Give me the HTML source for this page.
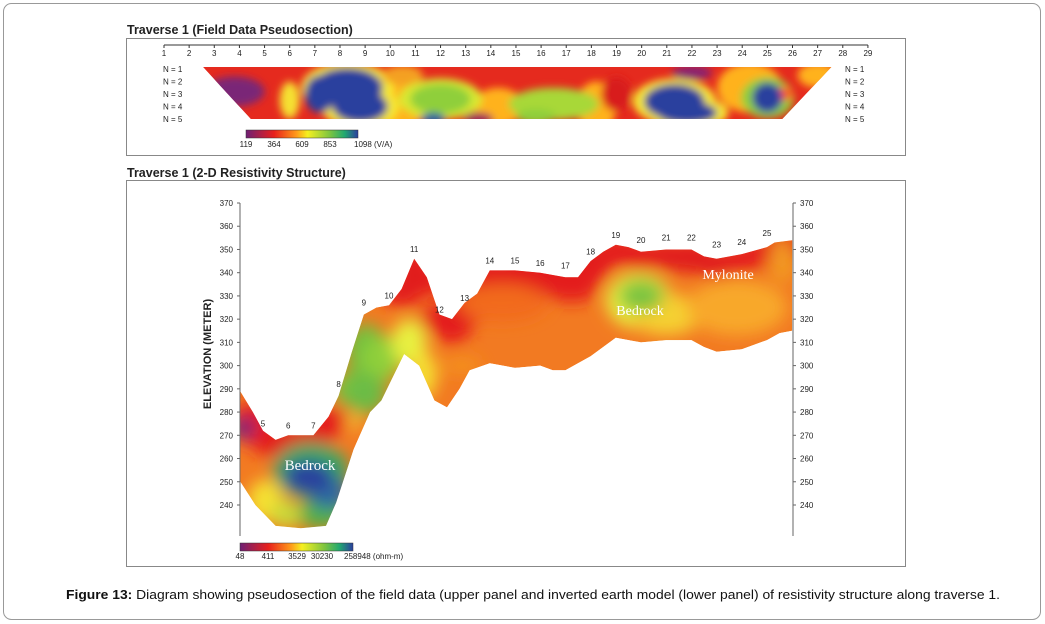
<!DOCTYPE html>
<html><head><meta charset="utf-8"><style>
body{margin:0;background:#fff;}
svg{display:block;font-family:"Liberation Sans",Arial,sans-serif;}
</style></head><body>
<svg id="fig" width="1045" height="624" viewBox="0 0 1045 624">
<defs>
<filter id="blur1" x="-50%" y="-50%" width="200%" height="200%"><feGaussianBlur stdDeviation="4"/></filter>
<filter id="blur2" x="-50%" y="-50%" width="200%" height="200%"><feGaussianBlur stdDeviation="8"/></filter>
<linearGradient id="cb1" x1="0" x2="1" y1="0" y2="0">
<stop offset="0" stop-color="#6e1f74"/><stop offset="0.25" stop-color="#e8201c"/><stop offset="0.45" stop-color="#ff9a1a"/><stop offset="0.55" stop-color="#f5f020"/><stop offset="0.75" stop-color="#7cc440"/><stop offset="0.88" stop-color="#21a870"/><stop offset="1" stop-color="#2b3f9e"/></linearGradient>
</defs>
<rect x="3.5" y="3.5" width="1037" height="616" rx="8" fill="#fff" stroke="#999"/>
<text x="127" y="34" font-size="12.5" font-weight="bold" fill="#222">Traverse 1 (Field Data Pseudosection)</text>
<rect x="126.5" y="38.5" width="779" height="117" fill="#fff" stroke="#888"/>
<g id="upper"></g>
<text x="127" y="177" font-size="12.5" font-weight="bold" fill="#222">Traverse 1 (2-D Resistivity Structure)</text>
<rect x="126.5" y="180.5" width="779" height="386" fill="#fff" stroke="#888"/>
<g id="lower"></g>
<text x="66" y="599" font-size="13" fill="#111" textLength="934" lengthAdjust="spacingAndGlyphs"><tspan font-weight="bold">Figure 13:</tspan> Diagram showing pseudosection of the field data (upper panel and inverted earth model (lower panel) of resistivity structure along traverse 1.</text>
</svg>
<script>
// ---- upper panel data ----
const upElectrodes = [1,2,3,4,5,6,7,8,9,10,11,12,13,14,15,16,17,18,19,20,21,22,23,24,25,26,27,28,29];
const upLevels = [1,2,3,4,5];
const upCbLabels = ["119","364","609","853","1098 (V/A)"];
const upBlobE = [3.8, 12.0, 11.7, 16.5, 15.8, 22.0, 13.5, 25.6, 19.0, 10.5, 6.0, 8.3, 8.8, 7.2, 21.3, 21.8, 25.0];
const upBlobN = [2.8, 3.4, 5.0, 3.8, 4.8, 1.3, 5.0, 3.0, 3.0, 1.5, 3.5, 2.5, 4.0, 3.0, 3.6, 4.5, 3.3];
const upBlobRx = [1.2, 1.2, 0.5, 1.8, 0.8, 0.8, 0.6, 0.4, 0.6, 0.8, 0.4, 1.4, 1.1, 0.6, 1.2, 1.2, 0.6];
const upBlobRy = [1.2, 1.2, 0.5, 1.3, 0.6, 0.6, 0.5, 0.6, 1.4, 0.8, 1.5, 1.6, 1.3, 1.5, 1.4, 0.9, 1.2];
const upBlobC = ["#7a2577","#8fcf3a","#2b5fa0","#a8d838","#8fcf3a","#8a2470","#9a1f5a","#ff5a20","#d81c1c","#f4a020","#f5e030","#2b3f9e","#2b3f9e","#2b3f9e","#2b3f9e","#2b3f9e","#2b3f9e"];
const upHalo = [null,"#d8e830",null,null,null,null,null,null,null,null,null,"#f5e830","#f5e830",null,"#f5e830","#f5e830","#8fcf3a"];
const NS="http://www.w3.org/2000/svg";
function mk(t,a,p){const e=document.createElementNS(NS,t);for(const k in a)e.setAttribute(k,a[k]);p.appendChild(e);return e;}
const ux = e => 164 + (e-1)*25.14;
const uy = n => 69 + (n-1)*12.5;
const up = document.getElementById('upper');
const ax = mk('line',{x1:ux(1),x2:ux(29),y1:45,y2:45,stroke:'#333','stroke-width':1},up);


upElectrodes.forEach(e=>{
  mk('line',{x1:ux(e),x2:ux(e),y1:45,y2:48,stroke:'#333'},up);
  const t=mk('text',{x:ux(e),y:56,'font-size':8,'text-anchor':'middle',fill:'#222'},up);t.textContent=e;
  
  
});
upLevels.forEach(n=>{
  const l=mk('text',{x:163,y:uy(n)+3,'font-size':8,fill:'#222'},up);l.textContent='N = '+n;
  
  
  const r=mk('text',{x:845,y:uy(n)+3,'font-size':8,fill:'#222'},up);r.textContent='N = '+n;
  
  
});
const defs=document.querySelector('defs');
const cp=mk('clipPath',{id:'upclip'},defs);
const trap=`${ux(2.55)},67 ${ux(27.55)},67 ${ux(25.6)},119 ${ux(4.45)},119`;
mk('polygon',{points:trap},cp);
const ug=mk('g',{'clip-path':'url(#upclip)'},up);
const ubg=mk('polygon',{points:trap,fill:'#e52a1e'},ug);


const sc=25.14, sn=12.5;
const ub=mk('g',{filter:'url(#blur1)'},ug);
[[10.3,3.8,1.2,2],[14.3,4,1,1.5],[18.2,4,0.8,2],[24.3,2.5,1.3,2],[27,1.5,0.8,1]].forEach(h=>mk('ellipse',{cx:ux(h[0]),cy:uy(h[1]),rx:h[2]*sc,ry:h[3]*sn,fill:'#ffb21f'},ub));
upBlobE.forEach((e,i)=>{
  if(upHalo[i]){mk('ellipse',{cx:ux(e),cy:uy(upBlobN[i]),rx:(upBlobRx[i]+0.45)*sc,ry:(upBlobRy[i]+0.45)*sn,fill:upHalo[i]},ub);}
});
upBlobE.forEach((e,i)=>{
  const el=mk('ellipse',{cx:ux(e),cy:uy(upBlobN[i]),rx:upBlobRx[i]*sc,ry:upBlobRy[i]*sn,fill:upBlobC[i]},ub);
  
  
});
const cb1=mk('rect',{x:246,y:130,width:112,height:8,fill:'url(#cb1)',stroke:'#333','stroke-width':0.5},up);


[246,274,302,330,358].forEach((x,i)=>{const t=mk('text',{x:i==4?x-4:x,y:147,'font-size':8,'text-anchor':i==4?'start':'middle',fill:'#222'},up);t.textContent=upCbLabels[i];
  
  });

// ---- lower panel data ----
const elevTicks = [370,360,350,340,330,320,310,300,290,280,270,260,250,240];
const topE = [4.1,4.6,5,5.5,6,6.5,7,7.6,8,8.5,9,9.5,10,10.5,11,11.5,12,12.5,13,13.5,14,15,16,17,17.5,18,18.5,19,19.5,20,21,22,22.5,23,24,25,25.3,26.0];
const topZ = [289,280,272,268,270,270,270,278,287,305,322,325,326,333,346,338,322,320,327,331,341,341,340,338,338,345,349,352,351,349,350,350,347,346,348,351,353,354];
const botE = [4.1,4.7,5.5,6.5,7.5,7.9,8.6,9.25,9.7,10.6,11.2,11.8,12.3,12.8,13.2,14,15,16,16.5,17,17.5,18,18.5,19,20,21,22,22.5,23,24,25,25.5,26.0];
const botZ = [250,240,231,230,231,241,264,280,285,305,300,285,282,290,298,301,299,300,298,298,301,304,308,312,310,311,311,308,306,307,311,314,315];
const lowCbLabels = ["48","411","3529","30230","258948 (ohm-m)"];
const electrodeLabels=[5,6,7,8,9,10,11,12,13,14,15,16,17,18,19,20,21,22,23,24,25];
const electrodeLabelZ=[273,272,272,290,325,328,348,322,327,343,343,342,341,347,354,352,353,353,350,351,355];
const lbE=[4.2,6.9,8.6,9.1,9.7,10.8,11.4,5.1,8.6,19.9,21.0,20.0,14.5,25.6,22.0,16.5,12.9,23.8,10.8,7.3,5.9,9.1,7.6,6.8];
const lbZ=[273,255,290,306,303,310,296,242,276,328,322,330,327,345,345,348,300,325,338,236,236,288,245,252];
const lbRx=[0.5,1.5,0.8,0.8,0.8,0.7,0.5,0.7,0.3,1.3,1.4,0.9,1.8,0.5,1.5,2,0.8,2,0.6,1.0,0.6,0.8,0.8,1.0];
const lbRy=[5,12,8,12,10,10,10,9,4,12,9,7,8,10,5,5,4,12,6,6,6,9,7,7];
const lbC=["#7a2577","#3aa860","#7cc440","#6fc040","#8fcf3a","#e8f040","#f5e030","#f5e030","#f5c030","#e8f040","#f5d030","#7cc440","#f26a1e","#f29a20","#e01c1c","#e01c1c","#f4901e","#f8a82a","#e01c1c","#4fb24a","#c8dc3a","#6cbc44","#2e6aa0","#2b3f9e"];
const ly = z => 203 + (370-z)*2.323;
const lx = e => 263 + (e-5)*25.2;
const lo=document.getElementById('lower');
const yl=mk('line',{x1:240,x2:240,y1:203,y2:536,stroke:'#666'},lo);


const yr=mk('line',{x1:793,x2:793,y1:203,y2:536,stroke:'#666'},lo);


elevTicks.forEach(z=>{
  mk('line',{x1:237,x2:240,y1:ly(z),y2:ly(z),stroke:'#666'},lo);
  mk('line',{x1:793,x2:796,y1:ly(z),y2:ly(z),stroke:'#666'},lo);
  const a=mk('text',{x:233,y:ly(z)+3,'font-size':8,'text-anchor':'end',fill:'#222'},lo);a.textContent=z;
  
  
  const b=mk('text',{x:800,y:ly(z)+3,'font-size':8,fill:'#222'},lo);b.textContent=z;
  
  
});
const yt=mk('text',{x:0,y:0,'font-size':11,'font-weight':'bold',fill:'#222','text-anchor':'middle',transform:`translate(211,${ly(305)}) rotate(-90)`},lo);
yt.textContent='ELEVATION (METER)';


let pts=topE.map((e,i)=>`${lx(e).toFixed(1)},${ly(topZ[i]).toFixed(1)}`);
for(let i=botE.length-1;i>=0;i--)pts.push(`${lx(botE[i]).toFixed(1)},${ly(botZ[i]).toFixed(1)}`);
const cp2=mk('clipPath',{id:'loclip'},defs);
mk('polygon',{points:pts.join(' ')},cp2);
const lg=mk('g',{'clip-path':'url(#loclip)'},lo);
const body=mk('polygon',{points:pts.join(' '),fill:'#f27a22'},lg);


const lb=mk('g',{filter:'url(#blur2)'},lg);
topE.forEach((e,i)=>{ if(e>=4.5 && (e<8 || e>10)) mk('ellipse',{cx:lx(e),cy:ly(topZ[i]-2),rx:20,ry:e>12&&e<18.5?20:14,fill:'#e41e1c'},lb);});
lbE.forEach((e,i)=>{
  const el=mk('ellipse',{cx:lx(e),cy:ly(lbZ[i]),rx:lbRx[i]*25.2,ry:lbRy[i]*2.323,fill:lbC[i]},lb);
  
  
});
electrodeLabels.forEach((e,i)=>{
  const t=mk('text',{x:lx(e),y:ly(electrodeLabelZ[i])-2,'font-size':8,'text-anchor':'middle',fill:'#222'},lo);t.textContent=e;
  
  
});
[['Bedrock',310,470,15],['Bedrock',640,315,14],['Mylonite',728,279,14]].forEach(a=>{
  const t=mk('text',{x:a[1],y:a[2],'font-size':a[3],'text-anchor':'middle',fill:'#fff','font-family':'Liberation Serif, serif'},lo);t.textContent=a[0];
  
  
});
const cb2=mk('rect',{x:240,y:543,width:113,height:8,fill:'url(#cb1)',stroke:'#333','stroke-width':0.5},lo);


[240,268,297,322,344].forEach((x,i)=>{const t=mk('text',{x:x,y:559,'font-size':8,'text-anchor':i==4?'start':'middle',fill:'#222'},lo);t.textContent=lowCbLabels[i];
  
  });
</script>
</body></html>
